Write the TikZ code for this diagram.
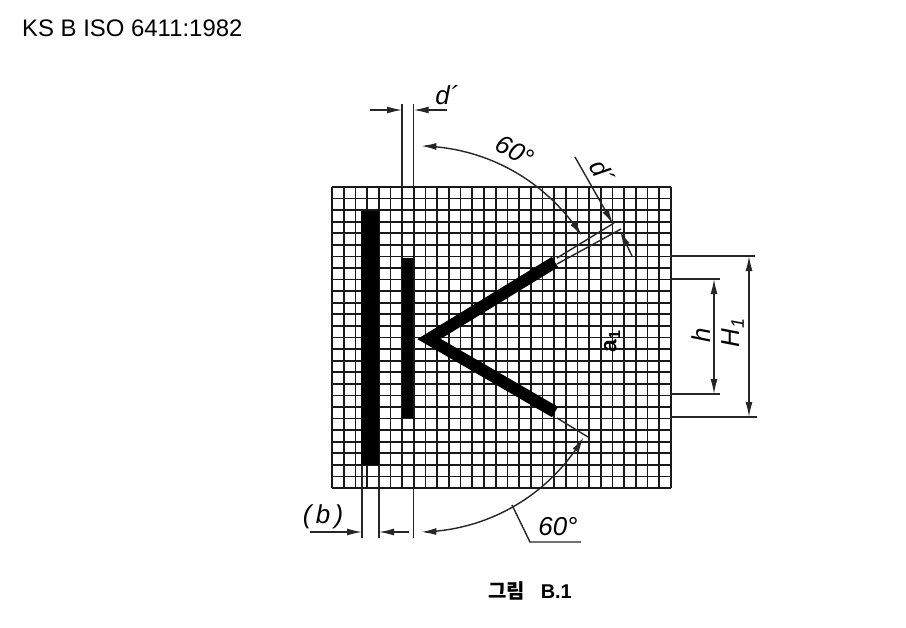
\documentclass[tikz,border=0pt]{standalone}
\usepackage{fontspec}
\setmainfont{Liberation Sans}
\newfontfamily\krfont{Noto Sans CJK KR}
\usetikzlibrary{arrows.meta}
\tikzset{
  x=1bp,y=-1bp,
  gridline/.style={black!90,line width=1.7bp},
  thin line/.style={black!85,line width=1.4bp},
  dim/.style={thin line,-{Latex[length=15bp,width=7bp]}},
  dimboth/.style={thin line,{Latex[length=15bp,width=7bp]}-{Latex[length=15bp,width=7bp]}},
  bar/.style={fill=black,draw=none},
  hand/.style={inner sep=0pt,font=\fontsize{26}{26}\selectfont\itshape},
}
\begin{document}
\begin{tikzpicture}
\useasboundingbox (0,0) rectangle (906,628);
\fill[white] (0,0) rectangle (906,628);
\node[anchor=west,inner sep=0pt,font=\fontsize{24}{26}\selectfont] (title) at (22,28) {KS B ISO 6411:1982};
% grid
\foreach \i in {0,...,29} \draw[gridline] ({332+\i*339/29},187) -- ({332+\i*339/29},488);
\foreach \j in {0,...,26} \draw[gridline] (332,{187+\j*301/26}) -- (671,{187+\j*301/26});
% bars
\fill[bar] (361,211) rectangle (379,465);
\fill[bar] (402,258) rectangle (413,418);
\draw[line width=12bp,miter limit=10,line join=miter] (555,262) -- (429,339) -- (555,412);
% top extension and d' dimension
\coordinate (t1) at (402,104); \coordinate (t1b) at (402,187);
\coordinate (t2) at (413.7,104); \coordinate (t2b) at (413.7,187);
\draw[thin line] (t1) -- (t1b); \draw[thin line] (t2) -- (t2b);
\coordinate (dl) at (370,110); \coordinate (dr) at (447,110);
\draw[dim] (dl) -- (402,110);
\draw[dim] (dr) -- (413.7,110);
\node[hand] (dtop) at (447,95) {d´};
% upper 60 arc
\draw[dimboth] plot[domain=89:32.5,samples=40,smooth] ({418+194*cos(\x)},{340-194*sin(\x)});
\node[hand,rotate=-28] (sixtyA) at (515,151) {60°};
% slanted extensions
\draw[thin line] (557,258) -- (614,223);
\draw[thin line] (557,264) -- (621,229);
\draw[dim] (575,157) -- (613,224);
\draw[dim] (632,256) -- (620,231);
\node[hand,rotate=-60] (dslant) at (602,172) {d´};
% right dims
\draw[thin line] (671,256) -- (755,256);
\draw[thin line] (671,279) -- (720,279);
\draw[thin line] (671,394) -- (720,394);
\draw[thin line] (671,417) -- (757,417);
\draw[dimboth] (714,279) -- (714,394);
\draw[dimboth] (749,256) -- (749,417);
\node[hand,rotate=90] (h) at (701,335) {h};
\node[hand,rotate=90] (H1) at (733,333) {H\textsubscript{1}};
\node[inner sep=0pt,rotate=90,font=\fontsize{23}{24}\selectfont\bfseries] (a1) at (612,341) {a\textsubscript{1}};
% lower extension & arc
\draw[thin line] (557,418) -- (588,437);
\draw[dimboth] plot[domain=-89:-30.5,samples=40,smooth] ({418+192*cos(\x)},{340-192*sin(\x)});
% bottom b dimension
\draw[thin line] (362,465) -- (362,538);
\draw[thin line] (379,465) -- (379,538);
\draw[thin line] (413.7,488) -- (413.7,538);
\draw[dim] (310,532) -- (362,532);
\draw[dim] (409,532) -- (379,532);
\node[hand] (b) at (323,517) {(\,b\,)};
% leader
\coordinate (la) at (512,505); \coordinate (lb) at (530,542); \coordinate (lc) at (581,542);
\draw[thin line] (la) -- (lb) -- (lc);
\node[hand] (sixtyB) at (558,527) {60°};
% caption
\node[inner sep=0pt,font=\fontsize{20}{22}\selectfont\bfseries] (cap) at (530,591) {{\krfont 그림}\hspace{0.8em}B.1};
\end{tikzpicture}
\end{document}
